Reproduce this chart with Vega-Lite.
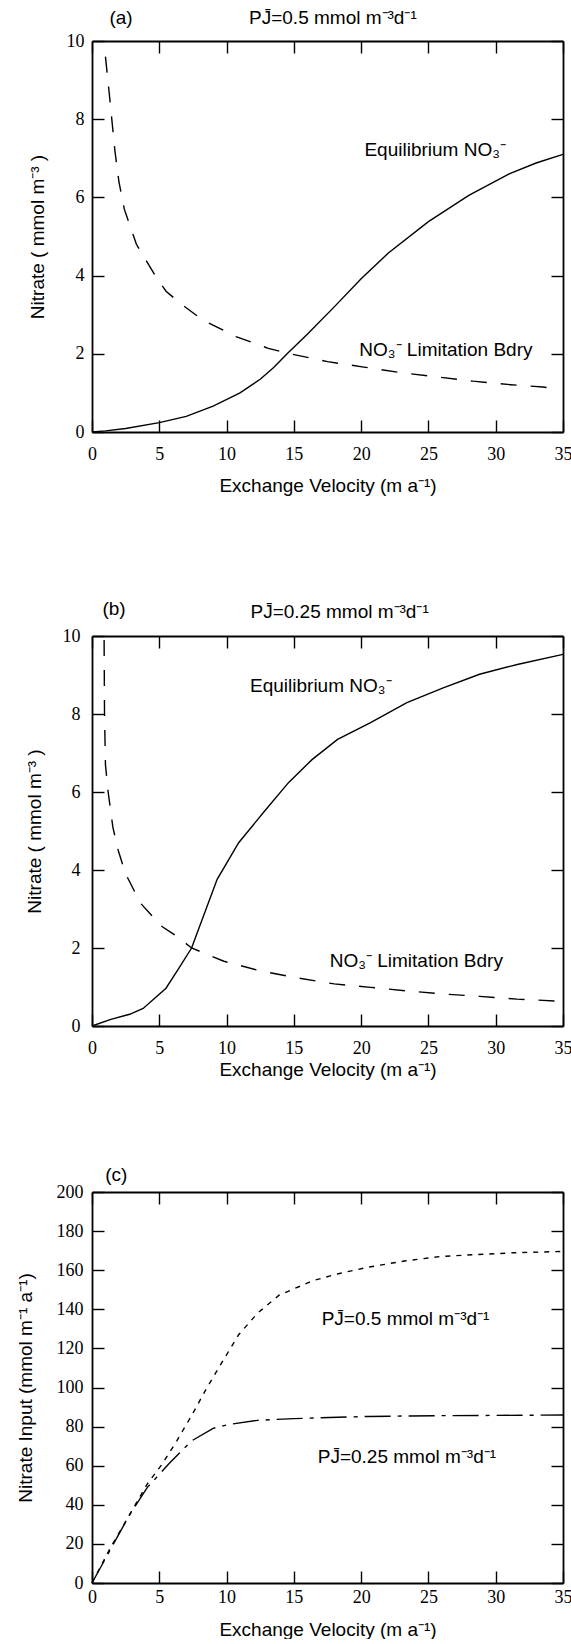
{
  "$schema": "https://vega.github.io/schema/vega-lite/v6.json",
  "background": "white",
  "padding": {"left": 16, "top": 9, "right": 0, "bottom": 0},
  "config": {
    "view": {"stroke": null},
    "axis": {
      "grid": false,
      "domainColor": "black",
      "domainWidth": 1.8,
      "tickColor": "black",
      "tickWidth": 1.4,
      "tickSize": -12,
      "labelFont": "Liberation Serif",
      "labelFontSize": 18,
      "labelColor": "black",
      "labelFlush": false,
      "labelOverlap": false,
      "titleFont": "Liberation Sans",
      "titleFontSize": 19,
      "titleFontWeight": "normal",
      "titleColor": "black"
    },
    "line": {"color": "black", "strokeWidth": 1.4},
    "text": {"font": "Liberation Sans", "fontSize": 19, "color": "black"}
  },
  "datasets": {
    "a_eq": [
      {"v": 0, "n": 0}, {"v": 1, "n": 0.03}, {"v": 2.5, "n": 0.09}, {"v": 5, "n": 0.24},
      {"v": 7, "n": 0.4}, {"v": 9, "n": 0.66}, {"v": 11, "n": 1.0}, {"v": 12.5, "n": 1.35},
      {"v": 13.5, "n": 1.65}, {"v": 14.5, "n": 2.0}, {"v": 16, "n": 2.5}, {"v": 18, "n": 3.2},
      {"v": 20, "n": 3.92}, {"v": 22, "n": 4.57}, {"v": 25, "n": 5.38}, {"v": 28, "n": 6.05},
      {"v": 31, "n": 6.6}, {"v": 33, "n": 6.88}, {"v": 35, "n": 7.1}
    ],
    "a_bd": [
      {"v": 1.0, "n": 9.6}, {"v": 1.3, "n": 8.6}, {"v": 1.7, "n": 7.2}, {"v": 2.0, "n": 6.4},
      {"v": 2.4, "n": 5.7}, {"v": 3.3, "n": 4.8}, {"v": 4.7, "n": 4.0}, {"v": 5.5, "n": 3.6},
      {"v": 6.6, "n": 3.28}, {"v": 8.2, "n": 2.87}, {"v": 10.7, "n": 2.44}, {"v": 13.1, "n": 2.14},
      {"v": 14.7, "n": 2.0}, {"v": 17.5, "n": 1.8}, {"v": 20.2, "n": 1.66}, {"v": 22.9, "n": 1.52},
      {"v": 25.6, "n": 1.41}, {"v": 28.3, "n": 1.3}, {"v": 31.1, "n": 1.21}, {"v": 33.5, "n": 1.15},
      {"v": 34.8, "n": 1.1}
    ],
    "b_eq": [
      {"v": 0, "n": 0}, {"v": 1.4, "n": 0.17}, {"v": 2.8, "n": 0.3}, {"v": 3.8, "n": 0.45},
      {"v": 5.5, "n": 0.97}, {"v": 6.4, "n": 1.45}, {"v": 7.4, "n": 2.0}, {"v": 9.3, "n": 3.76},
      {"v": 10.9, "n": 4.7}, {"v": 12.8, "n": 5.5}, {"v": 14.6, "n": 6.24}, {"v": 16.35, "n": 6.83},
      {"v": 18.25, "n": 7.35}, {"v": 20.7, "n": 7.78}, {"v": 23.4, "n": 8.29}, {"v": 26.1, "n": 8.67},
      {"v": 28.8, "n": 9.02}, {"v": 31.6, "n": 9.27}, {"v": 35, "n": 9.53}
    ],
    "b_bd": [
      {"v": 0.9, "n": 9.9}, {"v": 0.93, "n": 8.0}, {"v": 1.0, "n": 6.7}, {"v": 1.2, "n": 6.0},
      {"v": 1.55, "n": 5.1}, {"v": 1.95, "n": 4.5}, {"v": 2.5, "n": 3.9}, {"v": 3.6, "n": 3.15},
      {"v": 5.2, "n": 2.55}, {"v": 6.3, "n": 2.3}, {"v": 7.4, "n": 2.0}, {"v": 9.8, "n": 1.66},
      {"v": 12.55, "n": 1.41}, {"v": 15.3, "n": 1.23}, {"v": 18, "n": 1.08}, {"v": 20.7, "n": 0.99},
      {"v": 23.4, "n": 0.9}, {"v": 26.1, "n": 0.82}, {"v": 28.8, "n": 0.76}, {"v": 31.6, "n": 0.69},
      {"v": 34.5, "n": 0.64}
    ],
    "c_half": [
      {"v": 0, "n": 0}, {"v": 1.4, "n": 18.4}, {"v": 2.8, "n": 35}, {"v": 4.1, "n": 50.6},
      {"v": 5.2, "n": 60.7}, {"v": 6.3, "n": 72.7}, {"v": 7.4, "n": 85.6}, {"v": 8.5, "n": 99.4},
      {"v": 9.6, "n": 112.2}, {"v": 10.9, "n": 127}, {"v": 12.3, "n": 138}, {"v": 13.9, "n": 147.2},
      {"v": 16.4, "n": 154.6}, {"v": 18.3, "n": 158.2}, {"v": 20.5, "n": 161.5}, {"v": 23.2, "n": 164.7},
      {"v": 25.9, "n": 167}, {"v": 28.6, "n": 168}, {"v": 31.3, "n": 168.9}, {"v": 35, "n": 169.6}
    ],
    "c_quarter": [
      {"v": 0, "n": 0}, {"v": 1.4, "n": 17.5}, {"v": 2.8, "n": 35}, {"v": 4.1, "n": 48.8},
      {"v": 5.8, "n": 61.6}, {"v": 7.4, "n": 72.7}, {"v": 9.0, "n": 79.1}, {"v": 10.1, "n": 81},
      {"v": 12.3, "n": 83.2}, {"v": 15, "n": 84.1}, {"v": 20.5, "n": 85.2}, {"v": 25.9, "n": 85.6},
      {"v": 35, "n": 85.9}
    ],
    "notes": [
      {"panel": "a", "v": 2.16, "n": 10.58, "label": "(a)"},
      {"panel": "a", "v": 17.9, "n": 10.58, "label": "PJ̄=0.5 mmol m⁻³d⁻¹"},
      {"panel": "a", "v": 25.5, "n": 7.2, "label": "Equilibrium NO₃⁻"},
      {"panel": "a", "v": 26.3, "n": 2.1, "label": "NO₃⁻  Limitation Bdry"},
      {"panel": "b", "v": 1.64, "n": 10.69, "label": "(b)"},
      {"panel": "b", "v": 18.4, "n": 10.62, "label": "PJ̄=0.25 mmol m⁻³d⁻¹"},
      {"panel": "b", "v": 17.0, "n": 8.72, "label": "Equilibrium NO₃⁻"},
      {"panel": "b", "v": 24.1, "n": 1.66, "label": "NO₃⁻  Limitation Bdry"},
      {"panel": "c", "v": 1.8, "n": 208.7, "label": "(c)"},
      {"panel": "c", "v": 23.3, "n": 135, "label": "PJ̄=0.5 mmol m⁻³d⁻¹"},
      {"panel": "c", "v": 23.4, "n": 64.4, "label": "PJ̄=0.25 mmol m⁻³d⁻¹"}
    ],
    "blank": [{}]
  },
  "vconcat": [
    {
      "width": 471,
      "height": 391,
      "layer": [
        {
          "data": {"name": "a_eq"},
          "mark": "line",
          "encoding": {
            "x": {"field": "v", "type": "quantitative", "scale": {"domain": [0, 35], "nice": false},
              "axis": {"orient": "bottom", "values": [0, 5, 10, 15, 20, 25, 30, 35], "title": "Exchange Velocity (m a⁻¹)", "labelPadding": 25, "titlePadding": 13}},
            "y": {"field": "n", "type": "quantitative", "scale": {"domain": [0, 10], "nice": false},
              "axis": {"orient": "left", "values": [0, 2, 4, 6, 8, 10], "title": "Nitrate ( mmol m⁻³ )", "labelPadding": 20, "titlePadding": 19}}
          }
        },
        {
          "data": {"name": "a_bd"},
          "mark": {"type": "line", "strokeDash": [16, 14]},
          "encoding": {
            "x": {"field": "v", "type": "quantitative", "axis": {"orient": "top", "values": [0, 5, 10, 15, 20, 25, 30, 35], "labels": false, "title": null}},
            "y": {"field": "n", "type": "quantitative", "axis": {"orient": "right", "values": [0, 2, 4, 6, 8, 10], "labels": false, "title": null}}
          }
        },
        {
          "data": {"name": "notes"},
          "transform": [{"filter": "datum.panel === 'a'"}],
          "mark": {"type": "text", "align": "center", "baseline": "middle"},
          "encoding": {
            "x": {"field": "v", "type": "quantitative", "axis": null},
            "y": {"field": "n", "type": "quantitative", "axis": null},
            "text": {"field": "label"}
          }
        }
      ],
      "resolve": {"axis": {"x": "independent", "y": "independent"}}
    },
    {
      "width": 471,
      "height": 204,
      "data": {"name": "blank"},
      "mark": "text",
      "encoding": {"text": {"value": ""}}
    },
    {
      "width": 471,
      "height": 390,
      "layer": [
        {
          "data": {"name": "b_eq"},
          "mark": "line",
          "encoding": {
            "x": {"field": "v", "type": "quantitative", "scale": {"domain": [0, 35], "nice": false},
              "axis": {"orient": "bottom", "values": [0, 5, 10, 15, 20, 25, 30, 35], "title": "Exchange Velocity (m a⁻¹)", "labelPadding": 25, "titlePadding": 3}},
            "y": {"field": "n", "type": "quantitative", "scale": {"domain": [0, 10], "nice": false},
              "axis": {"orient": "left", "values": [0, 2, 4, 6, 8, 10], "title": "Nitrate ( mmol m⁻³ )", "labelPadding": 24, "titlePadding": 18}}
          }
        },
        {
          "data": {"name": "b_bd"},
          "mark": {"type": "line", "strokeDash": [16, 14]},
          "encoding": {
            "x": {"field": "v", "type": "quantitative", "axis": {"orient": "top", "values": [0, 5, 10, 15, 20, 25, 30, 35], "labels": false, "title": null}},
            "y": {"field": "n", "type": "quantitative", "axis": {"orient": "right", "values": [0, 2, 4, 6, 8, 10], "labels": false, "title": null}}
          }
        },
        {
          "data": {"name": "notes"},
          "transform": [{"filter": "datum.panel === 'b'"}],
          "mark": {"type": "text", "align": "center", "baseline": "middle"},
          "encoding": {
            "x": {"field": "v", "type": "quantitative", "axis": null},
            "y": {"field": "n", "type": "quantitative", "axis": null},
            "text": {"field": "label"}
          }
        }
      ],
      "resolve": {"axis": {"x": "independent", "y": "independent"}}
    },
    {
      "width": 471,
      "height": 166,
      "data": {"name": "blank"},
      "mark": "text",
      "encoding": {"text": {"value": ""}}
    },
    {
      "width": 471,
      "height": 391,
      "layer": [
        {
          "data": {"name": "c_half"},
          "mark": {"type": "line", "strokeDash": [5, 6]},
          "encoding": {
            "x": {"field": "v", "type": "quantitative", "scale": {"domain": [0, 35], "nice": false},
              "axis": {"orient": "bottom", "values": [0, 5, 10, 15, 20, 25, 30, 35], "title": "Exchange Velocity (m a⁻¹)", "labelPadding": 17, "titlePadding": 14}},
            "y": {"field": "n", "type": "quantitative", "scale": {"domain": [0, 200], "nice": false},
              "axis": {"orient": "left", "values": [0, 20, 40, 60, 80, 100, 120, 140, 160, 180, 200], "title": "Nitrate Input (mmol m⁻¹ a⁻¹)", "labelPadding": 21, "titlePadding": 21}}
          }
        },
        {
          "data": {"name": "c_quarter"},
          "mark": {"type": "line", "strokeDash": [26, 7, 4, 7]},
          "encoding": {
            "x": {"field": "v", "type": "quantitative", "axis": {"orient": "top", "values": [0, 5, 10, 15, 20, 25, 30, 35], "labels": false, "title": null}},
            "y": {"field": "n", "type": "quantitative", "axis": {"orient": "right", "values": [0, 20, 40, 60, 80, 100, 120, 140, 160, 180, 200], "labels": false, "title": null}}
          }
        },
        {
          "data": {"name": "notes"},
          "transform": [{"filter": "datum.panel === 'c'"}],
          "mark": {"type": "text", "align": "center", "baseline": "middle"},
          "encoding": {
            "x": {"field": "v", "type": "quantitative", "axis": null},
            "y": {"field": "n", "type": "quantitative", "axis": null},
            "text": {"field": "label"}
          }
        }
      ],
      "resolve": {"axis": {"x": "independent", "y": "independent"}}
    }
  ],
  "spacing": 0,
  "bounds": "flush"
}
